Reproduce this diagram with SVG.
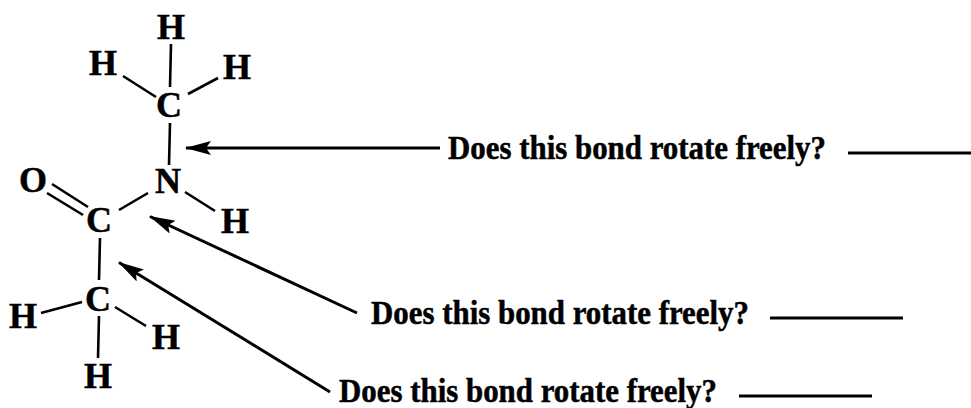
<svg xmlns="http://www.w3.org/2000/svg" width="971" height="408" viewBox="0 0 971 408">
<style>
text{font-family:"Liberation Serif","Times New Roman",serif;font-weight:bold;fill:#000;stroke:#000;stroke-width:0.5}
.a{font-size:36px;text-anchor:middle}
.q{font-size:33px}
.b{stroke:#000;stroke-width:2.6;fill:none}
.r{stroke:#000;stroke-width:3;fill:none}
</style>
<defs>
<marker id="ah" markerUnits="userSpaceOnUse" markerWidth="28" markerHeight="14" refX="27" refY="7" orient="auto" viewBox="0 0 28 14">
<path d="M28 7L2 0L7 7L2 14Z" fill="#000"/>
</marker>
</defs>
<rect width="971" height="408" fill="#fff"/>
<g id="connectors">
<path class="b" d="M171 44L170 87"/>
<path class="b" d="M123 76L156 97"/>
<path class="b" d="M218 78L188 94"/>
<path class="b" d="M170 123L169 165"/>
<path class="b" d="M52 184L88 207"/>
<path class="b" d="M47 193L83 215"/>
<path class="b" d="M119 210L148 193"/>
<path class="b" d="M185 192L215 211"/>
<path class="b" d="M100 238L99 280"/>
<path class="b" d="M41 313L82 302"/>
<path class="b" d="M115 307L146 326"/>
<path class="b" d="M99 316L98 358"/>
<path class="r" d="M440 148L186 148" marker-end="url(#ah)"/>
<path class="r" d="M357 313L150 216.500" marker-end="url(#ah)"/>
<path class="r" d="M330 392L119 262.500" marker-end="url(#ah)"/>
<path class="r" d="M848 153H971"/>
<path class="r" d="M770 318H903"/>
<path class="r" d="M739 396H872"/>
</g>
<g id="h1"><text class="a" x="171" y="39">H</text></g>
<g id="h2"><text class="a" x="103" y="75">H</text></g>
<g id="h3"><text class="a" x="237" y="79">H</text></g>
<g id="c1"><text class="a" x="169" y="117">C</text></g>
<g id="n1"><text class="a" x="168" y="193">N</text></g>
<g id="o1"><text class="a" x="33" y="192">O</text></g>
<g id="h4"><text class="a" x="235" y="233">H</text></g>
<g id="c2"><text class="a" x="99" y="232">C</text></g>
<g id="c3"><text class="a" x="98" y="311">C</text></g>
<g id="h5"><text class="a" x="23" y="328">H</text></g>
<g id="h6"><text class="a" x="166" y="349">H</text></g>
<g id="h7"><text class="a" x="98" y="388">H</text></g>
<g id="q1"><text class="q" x="448" y="159" textLength="378" lengthAdjust="spacingAndGlyphs">Does this bond rotate freely?</text></g>
<g id="q2"><text class="q" x="371" y="324" textLength="378" lengthAdjust="spacingAndGlyphs">Does this bond rotate freely?</text></g>
<g id="q3"><text class="q" x="339" y="402" textLength="378" lengthAdjust="spacingAndGlyphs">Does this bond rotate freely?</text></g>
</svg>
